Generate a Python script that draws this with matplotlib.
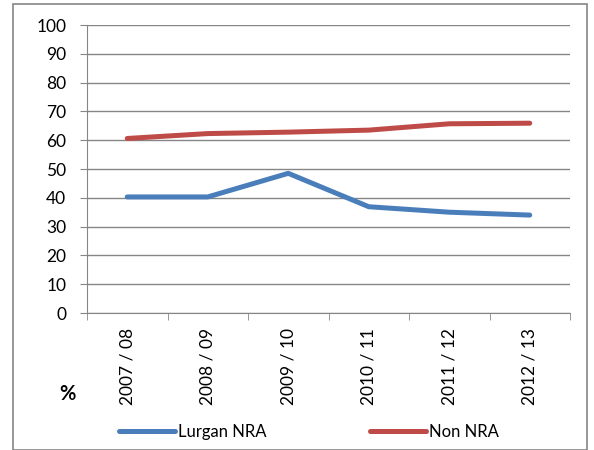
import matplotlib
matplotlib.use("Agg")
import matplotlib.pyplot as plt
import matplotlib.ticker as tkr
from matplotlib.patches import Rectangle

plt.rcParams['font.family'] = ['Lato', 'DejaVu Sans']

years = ['2007 / 08', '2008 / 09', '2009 / 10', '2010 / 11', '2011 / 12', '2012 / 13']
lurgan = [40.3, 40.3, 48.5, 36.9, 35.0, 34.0]
non_nra = [60.6, 62.3, 62.8, 63.5, 65.7, 65.9]

grid_col = '#868686'
W, H = 594, 450

fig = plt.figure(figsize=(5.94, 4.5), dpi=100)
ax = fig.add_axes([87 / W, 1 - 313 / H, (570 - 87) / W, (313 - 25) / H])

x = list(range(len(years)))
l1, = ax.plot(x, lurgan, color='#4A7EBB', lw=3.6, label='Lurgan NRA', solid_capstyle='round')
l2, = ax.plot(x, non_nra, color='#BE4B48', lw=3.6, label='Non NRA', solid_capstyle='round')

ax.set_xlim(-0.5, len(years) - 0.5)
ax.set_ylim(0, 100)
ax.yaxis.set_major_locator(tkr.MultipleLocator(10))
ax.grid(axis='y', color=grid_col, lw=1)
ax.set_axisbelow(True)

for s in ['top', 'right']:
    ax.spines[s].set_visible(False)
ax.spines['left'].set_color(grid_col)
ax.spines['bottom'].set_color(grid_col)

ax.set_xticks(x)
ax.set_xticklabels(years, rotation=90, fontsize=12.5)
ax.set_xticks([i - 0.5 for i in range(len(years) + 1)], minor=True)
ax.tick_params(axis='x', which='major', length=0, pad=11)
ax.tick_params(axis='x', which='minor', length=5, color=grid_col)
ax.tick_params(axis='y', length=5, color=grid_col, labelsize=12.5, pad=10)

fig.text(67 / W, 1 - 394 / H, '%', fontsize=14.5, fontweight='bold', ha='center', va='center')

for line, x0 in [(l1, 119), (l2, 370)]:
    leg = fig.legend(handles=[line], loc='center left', bbox_to_anchor=(x0 / W, 1 - 432 / H),
                     frameon=False, handlelength=3.35, handletextpad=0.2, borderpad=0,
                     borderaxespad=0, fontsize=12)

fig.add_artist(Rectangle((13 / W, 0), (587 - 13) / W, 1 - 4 / H, transform=fig.transFigure,
                         fill=False, edgecolor=grid_col, lw=1.2))

fig.savefig('out.png', dpi=100)
